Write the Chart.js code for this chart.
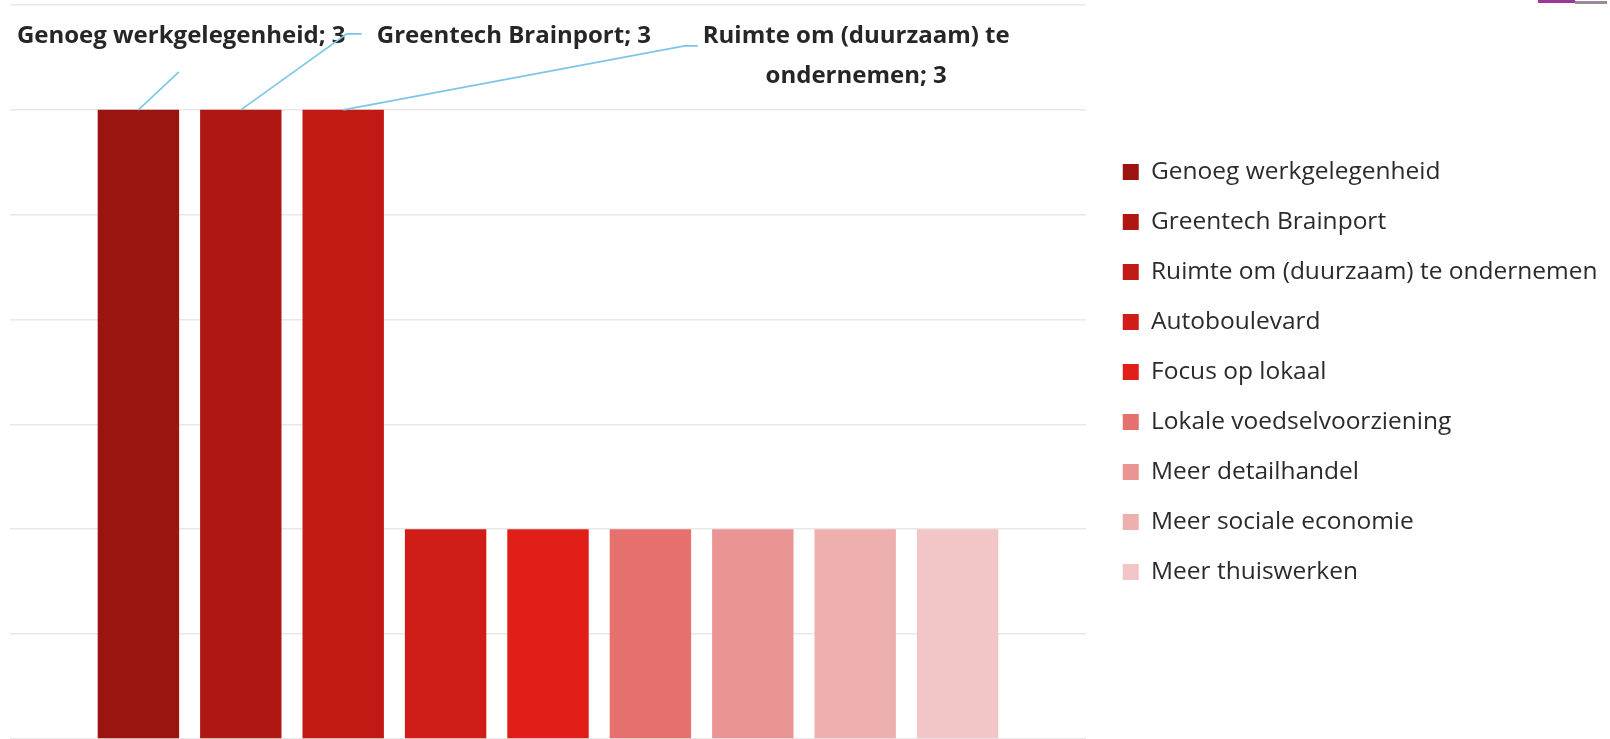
<!DOCTYPE html>
<html><head><meta charset="utf-8">
<script src="https://cdn.jsdelivr.net/npm/chart.js@4.4.1/dist/chart.umd.min.js"></script>
<style>
html,body{margin:0;padding:0;background:#fff;overflow:hidden;}
#wrap{position:relative;width:1610px;height:739px;overflow:hidden;}
#c{position:absolute;left:0;top:0;}
#logo1{position:absolute;left:1538px;top:0;width:37px;height:3px;background:#9a3a96;}
#logo2{position:absolute;left:1575px;top:1px;width:32px;height:3px;background:#9c8a9a;}
</style></head><body>
<div id="wrap"><canvas id="c"></canvas><div id="logo1"></div><div id="logo2"></div></div>
<script>
// ---- data ----
const categories = [
  'Genoeg werkgelegenheid',
  'Greentech Brainport',
  'Ruimte om (duurzaam) te ondernemen',
  'Autoboulevard',
  'Focus op lokaal',
  'Lokale voedselvoorziening',
  'Meer detailhandel',
  'Meer sociale economie',
  'Meer thuiswerken'
];
const values = [3, 3, 3, 1, 1, 1, 1, 1, 1];
const colors = ['#9c1410','#af1712','#c11a15','#d11d17','#e11f18','#e6706d','#ea9594','#eeb0af','#f2c6c6'];
const yMin = 0, yMax = 3.5, yStep = 0.5;
const labelledBars = [0, 1, 2];

// ---- styling / layout ----
const FAMILY = "'Open Sans', Lato, sans-serif";
const mctx = document.createElement('canvas').getContext('2d');
function fitSize(text, weight, target){
  mctx.font = `${weight} 100px ${FAMILY}`;
  return Math.round(100 * target / mctx.measureText(text).width * 2) / 2;
}
const legendF = fitSize('Ruimte om (duurzaam) te ondernemen', 'normal', 445);
const labelF = fitSize('Genoeg werkgelegenheid; 3', 'bold', 326);
const legendPad = 50 - legendF;
const boxW = 16;
const textStart = 1151;
const legendLeft = textStart - boxW - legendF/2 - legendPad;
const plotRight = 1086;
const spacerW = legendLeft - plotRight;
mctx.font = `normal ${legendF}px ${FAMILY}`;
let maxTw = 0;
categories.forEach(c => { maxTw = Math.max(maxTw, mctx.measureText(c).width); });
const canvasW = Math.ceil(legendLeft + 2*legendPad + boxW + legendF/2 + maxTw + 10) + 2;
const legendBoxW = canvasW - legendLeft;
const canvasH = 739;
const cv = document.getElementById('c');
cv.width = canvasW; cv.height = canvasH;
cv.style.width = canvasW + 'px'; cv.style.height = canvasH + 'px';

// label placement relative to each bar's top centre
const labelSpecs = [
  {align:'left',   dx:-121.5, dy:-67, maxW:Infinity, leader:[[40.5,-38]]},
  {align:'left',   dx:136,    dy:-67, maxW:Infinity, leader:[[106,-76],[121,-76]]},
  {align:'center', dx:513,    dy:-67, maxW:320,      leader:[[341.5,-64],[354.5,-64]]}
];
const leaderColor = '#7cc6e8';
const lineH = 40;

function wrap(ctx, text, maxW){
  const words = text.split(' ');
  const lines = []; let cur = '';
  words.forEach(w => {
    const t = cur ? cur + ' ' + w : w;
    if (cur && ctx.measureText(t).width > maxW) { lines.push(cur); cur = w; }
    else cur = t;
  });
  if (cur) lines.push(cur);
  return lines;
}

const legendWidthFix = {
  id: 'legendWidthFix',
  beforeLayout(chart){
    const lg = chart.legend;
    if (lg && !lg._wfix){
      const f = lg.fit;
      lg.fit = function(){ f.call(this); this.width = legendBoxW; };
      lg._wfix = true;
    }
  }
};

const dataLabels = {
  id: 'dataLabels',
  afterDatasetsDraw(chart){
    const ctx = chart.ctx;
    labelledBars.forEach((di, k) => {
      const s = labelSpecs[k];
      const el = chart.getDatasetMeta(di).data[0];
      const x0 = el.x, y0 = el.y;
      ctx.save();
      ctx.strokeStyle = leaderColor; ctx.lineWidth = 1.6;
      ctx.beginPath(); ctx.moveTo(x0, y0);
      s.leader.forEach(p => ctx.lineTo(x0 + p[0], y0 + p[1]));
      ctx.stroke();
      ctx.font = `bold ${labelF}px ${FAMILY}`;
      ctx.fillStyle = '#262626';
      ctx.textAlign = s.align; ctx.textBaseline = 'alphabetic';
      const txt = `${categories[di]}; ${chart.data.datasets[di].data[0]}`;
      wrap(ctx, txt, s.maxW).forEach((ln, j) => ctx.fillText(ln, x0 + s.dx, y0 + s.dy + j*lineH));
      ctx.restore();
    });
  }
};

const datasets = categories.map((c, i) => ({
  label: c,
  data: [values[i]],
  backgroundColor: colors[i],
  borderWidth: 0
}));

new Chart(cv, {
  type: 'bar',
  data: { labels: [''], datasets },
  options: {
    responsive: false,
    animation: false,
    devicePixelRatio: 1,
    categoryPercentage: 0.8565,
    barPercentage: 0.795,
    layout: { padding: { left: 10, top: 5, right: 0, bottom: 0 } },
    scales: {
      x: { display: false },
      y: {
        position: 'right',
        min: yMin, max: yMax,
        ticks: { display: false, stepSize: yStep },
        grid: { color: '#e8e8e8', lineWidth: 1.6, drawTicks: false },
        border: { display: false },
        afterFit(scale){ scale.width = spacerW; }
      }
    },
    plugins: {
      tooltip: { enabled: false },
      legend: {
        position: 'right',
        align: 'center',
        labels: {
          boxWidth: boxW, boxHeight: boxW,
          padding: legendPad,
          color: '#2b2b2b',
          font: { family: FAMILY, size: legendF }
        }
      }
    }
  },
  plugins: [legendWidthFix, dataLabels]
});
</script>
</body></html>
